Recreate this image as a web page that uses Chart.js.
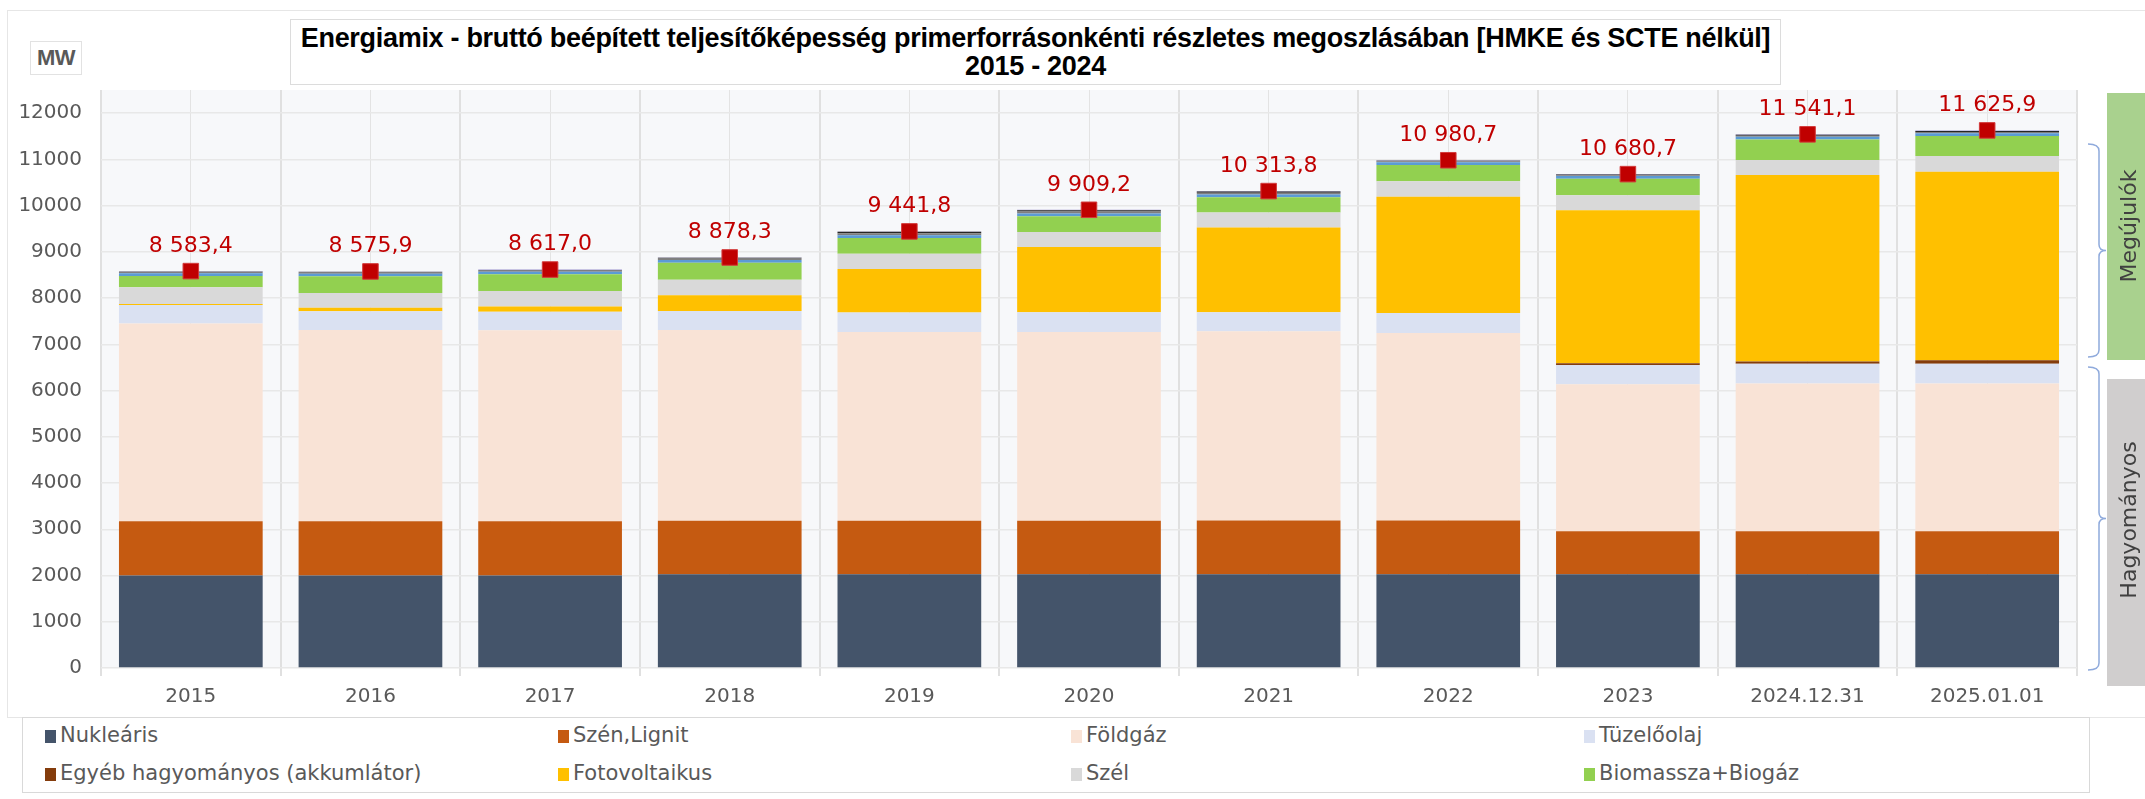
<!DOCTYPE html>
<html>
<head>
<meta charset="utf-8">
<script src="https://cdn.jsdelivr.net/npm/chart.js@4.4.0/dist/chart.umd.min.js"></script>
<style>
  body { margin: 0; width: 2145px; height: 799px; overflow: hidden; background: #fff; position: relative; font-family: 'DejaVu Sans', sans-serif; }
  #frame { position: absolute; left: 7px; top: 10px; width: 2200px; height: 706px; border: 1px solid #e6e6e6; }
  #wrap { position: absolute; left: 0; top: 0; width: 2145px; height: 720px; }
  #title { position: absolute; left: 290px; top: 19px; width: 1491px; height: 66px; box-sizing: border-box; border: 1px solid #dcdcdc; background: #fff;
           text-align: center; font: bold 27px 'Liberation Sans', Arial, sans-serif; color: #000; line-height: 28px; padding-top: 4px; letter-spacing: -0.3px; }
  #mw { position: absolute; left: 30px; top: 41px; width: 52px; height: 34px; box-sizing: border-box; border: 1px solid #e2e2e2; background: #fff;
        text-align: center; font: bold 22px 'Liberation Sans', Arial, sans-serif; color: #595959; line-height: 32px; letter-spacing: -0.5px; }
  #legend { position: absolute; left: 22px; top: 717px; width: 2068px; height: 76px; box-sizing: border-box; border: 1px solid #d9d9d9; background: #fff; }
  .item { position: absolute; height: 26px; line-height: 26px; font-size: 21px; color: #595959; white-space: nowrap; }
  .sw { display: inline-block; width: 11px; height: 13px; margin-right: 4px; vertical-align: -1px; }
</style>
</head>
<body>
<div id="frame"></div>
<div id="wrap"><canvas id="mixChart" width="2145" height="720"></canvas></div>
<div id="title">Energiamix - bruttó beépített teljesítőképesség primerforrásonkénti részletes megoszlásában [HMKE és SCTE nélkül]<br>2015 - 2024</div>
<div id="mw">MW</div>
<div id="legend"></div>
<script>
// Beépített teljesítőképesség, MW
const categories = ['2015', '2016', '2017', '2018', '2019', '2020', '2021', '2022', '2023', '2024.12.31', '2025.01.01'];
const nuklearis = [2000, 2000, 2000, 2027, 2027, 2027, 2027, 2027, 2027, 2027, 2027];
const szenLignit = [1173, 1173, 1173, 1160, 1160, 1160, 1163, 1163, 931, 931, 931];
const foldgaz = [4276, 4139, 4131, 4123, 4082, 4082, 4091, 4055, 3177, 3192, 3192];
const tuzeloolaj = [399, 405, 399, 412, 419, 427, 414, 430, 418, 432, 432];
const egyebHagyomanyos = [0, 0, 0, 0, 0, 0, 0, 0, 37, 48, 72];
const fotovoltaikus = [22, 73, 116, 338, 940, 1410, 1830, 2518, 3308, 4031, 4079];
const szel = [362, 319, 333, 335, 333, 325, 325, 331, 324, 325, 339];
const biomassza = [246, 362, 362, 369, 340, 340, 333, 354, 360, 446, 432];
// kis tételek az oszlopok tetején (nincsenek a jelmagyarázatban)
const viz = [57, 57, 57, 57, 57, 57, 57, 57, 57, 57, 60];
const hulladek = [40, 40, 38, 45, 45, 45, 40, 25, 20, 20, 30];
const egyebMegujulo = [0, 0, 0, 4, 30, 27, 25, 12, 13, 23, 22];
const egyeb = [8, 8, 8, 8, 9, 9, 9, 9, 9, 9, 10];
const osszesen = [8583.4, 8575.9, 8617.0, 8878.3, 9441.8, 9909.2, 10313.8, 10980.7, 10680.7, 11541.1, 11625.9];
const yTicks = [0, 1000, 2000, 3000, 4000, 5000, 6000, 7000, 8000, 9000, 10000, 11000, 12000];

Chart.defaults.font.family = "'DejaVu Sans', sans-serif";

function huFormat(v) {
    const parts = v.toFixed(1).split('.');
    return parts[0].replace(/\B(?=(\d{3})+(?!\d))/g, ' ') + ',' + parts[1];
}

function bar(label, data, color, inLegend) {
    return { type: 'bar', label: label, data: data, backgroundColor: color, borderWidth: 0, stack: 'mix', order: 1, inLegend: inLegend };
}

const plotBackground = {
    id: 'plotBackground',
    beforeDraw(chart) {
        const a = chart.chartArea, ctx = chart.ctx;
        ctx.save();
        ctx.fillStyle = '#f7f8fa';
        ctx.fillRect(a.left, a.top, a.right - a.left, a.bottom - a.top);
        ctx.restore();
    }
};

const totalLabels = {
    id: 'totalLabels',
    afterDatasetsDraw(chart) {
        const ctx = chart.ctx;
        const idx = chart.data.datasets.findIndex(d => d.type === 'line');
        const meta = chart.getDatasetMeta(idx);
        ctx.save();
        ctx.font = "22px 'DejaVu Sans', sans-serif";
        ctx.fillStyle = '#c00000';
        ctx.textAlign = 'center';
        ctx.textBaseline = 'middle';
        meta.data.forEach((pt, i) => {
            ctx.fillText(huFormat(osszesen[i]), pt.x, pt.y - 25);
        });
        ctx.restore();
    }
};

function brace(ctx, x, y1, y2) {
    const ym = (y1 + y2) / 2;
    ctx.beginPath();
    ctx.moveTo(x - 11, y1);
    ctx.quadraticCurveTo(x, y1, x, y1 + 7);
    ctx.lineTo(x, ym - 6);
    ctx.quadraticCurveTo(x, ym, x + 7, ym);
    ctx.quadraticCurveTo(x, ym, x, ym + 6);
    ctx.lineTo(x, y2 - 7);
    ctx.quadraticCurveTo(x, y2, x - 11, y2);
    ctx.stroke();
}

const groupBoxes = {
    id: 'groupBoxes',
    afterDraw(chart) {
        const ctx = chart.ctx;
        ctx.save();
        ctx.fillStyle = '#a9d18e';
        ctx.fillRect(2107, 93, 45, 267);
        ctx.fillStyle = '#d0cece';
        ctx.fillRect(2107, 379, 45, 307);
        ctx.strokeStyle = '#8faadc';
        ctx.lineWidth = 1.5;
        brace(ctx, 2099, 144, 357);
        brace(ctx, 2099, 367, 670);
        ctx.fillStyle = '#404040';
        ctx.font = "22px 'DejaVu Sans', sans-serif";
        ctx.textAlign = 'center';
        ctx.textBaseline = 'middle';
        ctx.translate(2130, 226);
        ctx.rotate(-Math.PI / 2);
        ctx.fillText('Megújulók', 0, 0);
        ctx.rotate(Math.PI / 2);
        ctx.translate(0, 294);
        ctx.rotate(-Math.PI / 2);
        ctx.fillText('Hagyományos', 0, 0);
        ctx.restore();
    }
};

const datasets = [
    bar('Nukleáris', nuklearis, '#44546a', true),
    bar('Szén,Lignit', szenLignit, '#c55a11', true),
    bar('Földgáz', foldgaz, '#f9e3d6', true),
    bar('Tüzelőolaj', tuzeloolaj, '#dae1f2', true),
    bar('Egyéb hagyományos (akkumlátor)', egyebHagyomanyos, '#843c0c', true),
    bar('Fotovoltaikus', fotovoltaikus, '#ffc000', true),
    bar('Szél', szel, '#d9d9d9', true),
    bar('Biomassza+Biogáz', biomassza, '#92d050', true),
    bar('Víz', viz, '#5b9bd5', false),
    bar('Hulladék', hulladek, '#7f7f7f', false),
    bar('Egyéb megújuló', egyebMegujulo, '#262626', false),
    bar('Egyéb', egyeb, '#9a8fcc', false),
    {
        type: 'line', label: 'Összesen', data: osszesen, stack: 'total', order: 0, showLine: false,
        pointStyle: 'rect', pointRadius: 11, pointBackgroundColor: '#c00000', pointBorderColor: '#d23a3a', pointBorderWidth: 1,
        inLegend: false
    }
];

const chart = new Chart(document.getElementById('mixChart'), {
    data: { labels: categories, datasets: datasets },
    options: {
        responsive: false,
        animation: false,
        devicePixelRatio: 1,
        layout: { padding: { top: 90, right: 68, left: 0, bottom: 0 } },
        datasets: { bar: { categoryPercentage: 1.0, barPercentage: 0.8 } },
        plugins: { legend: { display: false }, tooltip: { enabled: false } },
        scales: {
            x: {
                stacked: true,
                offset: true,
                grid: { offset: true, color: '#e0e0e0', lineWidth: 2, tickLength: 8 },
                border: { display: false },
                ticks: { color: '#595959', font: { size: 20 }, padding: 9, maxRotation: 0, autoSkip: false },
                afterFit: s => { s.height = 52; }
            },
            x2: {
                type: 'category',
                labels: categories,
                position: 'top',
                offset: true,
                grid: { offset: false, color: '#e3e3e3', lineWidth: 1, drawTicks: false },
                border: { display: false },
                ticks: { display: false },
                afterFit: s => { s.height = 0; }
            },
            y: {
                stacked: true,
                min: 0,
                max: 12500,
                afterBuildTicks: s => { s.ticks = yTicks.map(v => ({ value: v })); },
                grid: { color: '#e8e8e8', lineWidth: 1.5, drawTicks: false },
                border: { display: false },
                ticks: { color: '#595959', font: { size: 20 }, padding: 19, callback: v => String(v) },
                afterFit: s => { s.width = 101; }
            }
        }
    },
    plugins: [plotBackground, totalLabels, groupBoxes]
});

// jelmagyarázat: 4 oszlop, 2 sor
const legendBox = document.getElementById('legend');
chart.data.datasets.filter(d => d.inLegend).forEach((d, i) => {
    const item = document.createElement('div');
    item.className = 'item';
    item.style.left = (22 + (i % 4) * 513) + 'px';
    item.style.top = (i < 4 ? 4 : 42) + 'px';
    item.innerHTML = '<span class="sw" style="background:' + d.backgroundColor + '"></span>' + d.label;
    legendBox.appendChild(item);
});
</script>
</body>
</html>
